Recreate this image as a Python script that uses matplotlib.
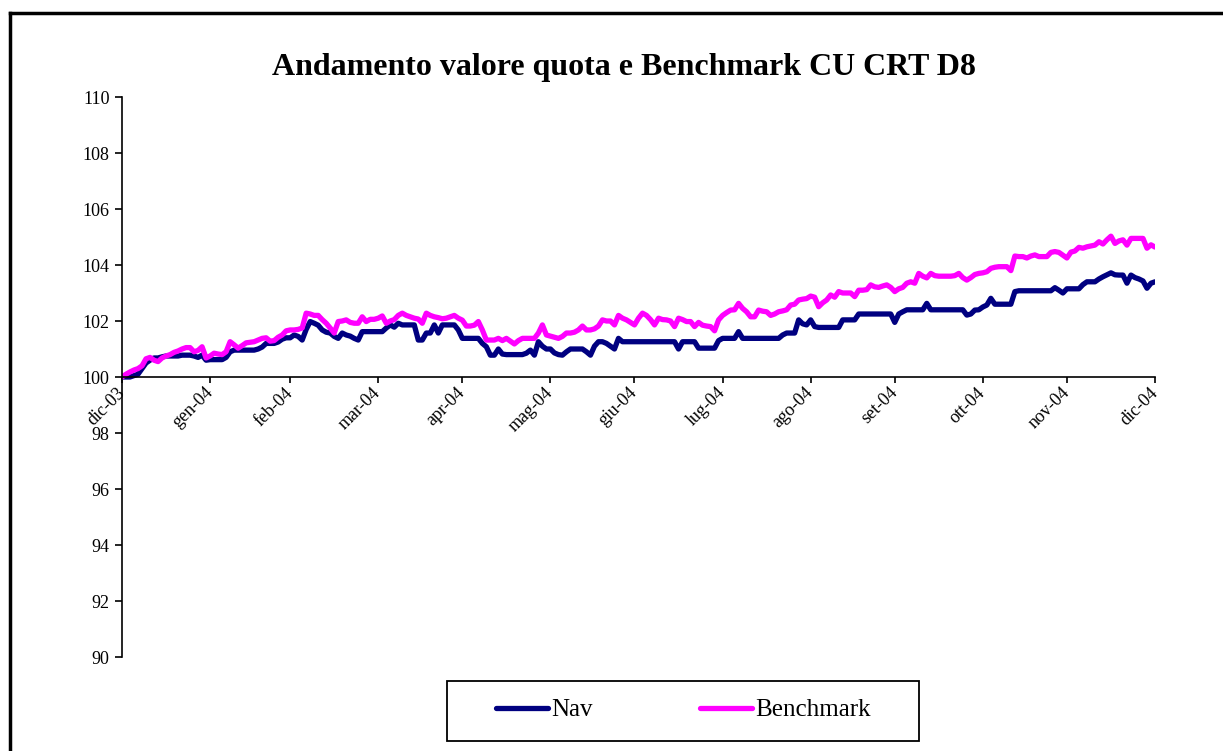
import matplotlib
matplotlib.use("Agg")
import matplotlib.pyplot as plt
import numpy as np
from matplotlib.lines import Line2D
from matplotlib.patches import Rectangle

# month labels (first trading day of each month) and observations per month
month_labels = ["dic-03", "gen-04", "feb-04", "mar-04", "apr-04", "mag-04", "giu-04",
                "lug-04", "ago-04", "set-04", "ott-04", "nov-04", "dic-04"]
days_per_month = [22, 20, 22, 21, 22, 21, 22, 22, 21, 22, 21, 22]

nav = [
    # dic-03
    100.0, 100.0, 100.0, 100.05, 100.1, 100.3, 100.5, 100.6, 100.68, 100.68, 100.72,
    100.75, 100.75, 100.75, 100.75, 100.78, 100.78, 100.78, 100.75, 100.7, 100.78, 100.6,
    # gen-04
    100.62, 100.62, 100.62, 100.62, 100.7, 100.9, 100.96, 100.96, 100.96, 100.96,
    100.96, 100.96, 101.0, 101.07, 101.2, 101.2, 101.2, 101.25, 101.35, 101.4,
    # feb-04
    101.4, 101.5, 101.45, 101.32, 101.7, 101.98, 101.92, 101.85, 101.68, 101.6, 101.57,
    101.45, 101.38, 101.57, 101.5, 101.46, 101.38, 101.32, 101.62, 101.62, 101.62, 101.62,
    # mar-04
    101.62, 101.62, 101.75, 101.86, 101.78, 101.92, 101.86, 101.86, 101.86, 101.86, 101.32,
    101.32, 101.57, 101.57, 101.86, 101.57, 101.86, 101.86, 101.86, 101.86, 101.68,
    # apr-04
    101.38, 101.38, 101.38, 101.38, 101.38, 101.2, 101.08, 100.78, 100.78, 101.0, 100.82,
    100.8, 100.8, 100.8, 100.8, 100.8, 100.85, 100.96, 100.78, 101.26, 101.1, 101.0,
    # mag-04
    101.0, 100.86, 100.8, 100.78, 100.9, 101.0, 101.0, 101.0, 101.0, 100.9, 100.78,
    101.1, 101.26, 101.26, 101.2, 101.1, 101.0, 101.38, 101.26, 101.26, 101.26,
    # giu-04
    101.26, 101.26, 101.26, 101.26, 101.26, 101.26, 101.26, 101.26, 101.26, 101.26, 101.26,
    101.0, 101.26, 101.26, 101.26, 101.26, 101.03, 101.03, 101.03, 101.03, 101.03, 101.3,
    # lug-04
    101.38, 101.38, 101.38, 101.38, 101.62, 101.38, 101.38, 101.38, 101.38, 101.38, 101.38,
    101.38, 101.38, 101.38, 101.38, 101.5, 101.57, 101.57, 101.57, 102.04, 101.9, 101.86,
    # ago-04
    102.04, 101.8, 101.77, 101.77, 101.77, 101.77, 101.77, 101.77, 102.04, 102.04, 102.04,
    102.04, 102.25, 102.25, 102.25, 102.25, 102.25, 102.25, 102.25, 102.25, 102.25,
    # set-04
    101.95, 102.25, 102.33, 102.4, 102.4, 102.4, 102.4, 102.4, 102.63, 102.4, 102.4,
    102.4, 102.4, 102.4, 102.4, 102.4, 102.4, 102.4, 102.21, 102.25, 102.39, 102.4,
    # ott-04
    102.5, 102.57, 102.81, 102.6, 102.6, 102.6, 102.6, 102.6, 103.05, 103.08, 103.08,
    103.08, 103.08, 103.08, 103.08, 103.08, 103.08, 103.08, 103.19, 103.1, 103.0,
    # nov-04
    103.15, 103.15, 103.15, 103.15, 103.3, 103.4, 103.4, 103.4, 103.5, 103.58, 103.65,
    103.72, 103.65, 103.64, 103.64, 103.35, 103.64, 103.55, 103.5, 103.43, 103.17, 103.35,
    # dic-04
    103.4,
]

benchmark = [
    # dic-03
    100.0, 100.1, 100.18, 100.25, 100.3, 100.4, 100.65, 100.7, 100.6, 100.55, 100.68,
    100.75, 100.8, 100.88, 100.93, 101.0, 101.05, 101.05, 100.9, 100.95, 101.08, 100.68,
    # gen-04
    100.75, 100.85, 100.82, 100.8, 100.9, 101.26, 101.15, 101.03, 101.12, 101.22,
    101.24, 101.26, 101.32, 101.38, 101.4, 101.28, 101.3, 101.42, 101.5, 101.65,
    # feb-04
    101.68, 101.68, 101.7, 101.75, 102.28, 102.25, 102.2, 102.2, 102.05, 101.92, 101.75,
    101.57, 101.98, 102.0, 102.04, 101.95, 101.92, 101.92, 102.15, 101.98, 102.06, 102.06,
    # mar-04
    102.1, 102.18, 101.92, 102.0, 102.05, 102.2, 102.28, 102.2, 102.15, 102.1, 102.07,
    101.92, 102.28, 102.2, 102.15, 102.12, 102.08, 102.1, 102.15, 102.2, 102.1,
    # apr-04
    102.03, 101.82, 101.82, 101.85, 101.98, 101.68, 101.32, 101.32, 101.32, 101.38, 101.3,
    101.38, 101.28, 101.18, 101.3, 101.38, 101.38, 101.38, 101.38, 101.57, 101.86, 101.5,
    # mag-04
    101.46, 101.42, 101.38, 101.45, 101.57, 101.57, 101.6, 101.68, 101.82, 101.68, 101.68,
    101.72, 101.82, 102.04, 102.0, 102.0, 101.86, 102.2, 102.1, 102.04, 101.95,
    # giu-04
    101.86, 102.1, 102.28, 102.2, 102.05, 101.86, 102.1, 102.05, 102.04, 102.0, 101.8,
    102.1, 102.05, 101.98, 101.98, 101.8, 101.95, 101.85, 101.82, 101.8, 101.65, 102.04,
    # lug-04
    102.2, 102.3, 102.39, 102.4, 102.63, 102.45, 102.33, 102.15, 102.15, 102.39, 102.35,
    102.33, 102.2, 102.25, 102.33, 102.36, 102.4, 102.57, 102.6, 102.75, 102.78, 102.8,
    # ago-04
    102.89, 102.85, 102.51, 102.65, 102.75, 102.93, 102.85, 103.05, 103.0, 103.0, 103.0,
    102.87, 103.1, 103.1, 103.12, 103.29, 103.22, 103.2, 103.25, 103.29, 103.2,
    # set-04
    103.05, 103.15, 103.2, 103.35, 103.4, 103.35, 103.7, 103.6, 103.54, 103.7, 103.62,
    103.6, 103.6, 103.6, 103.6, 103.62, 103.7, 103.55, 103.46, 103.55, 103.66, 103.7,
    # ott-04
    103.72, 103.76, 103.88, 103.92, 103.94, 103.94, 103.94, 103.8, 104.32, 104.3, 104.3,
    104.25, 104.32, 104.36, 104.3, 104.3, 104.3, 104.45, 104.48, 104.45, 104.35,
    # nov-04
    104.25, 104.46, 104.5, 104.63, 104.6, 104.65, 104.68, 104.71, 104.83, 104.75, 104.9,
    105.03, 104.77, 104.86, 104.9, 104.71, 104.95, 104.95, 104.95, 104.95, 104.6, 104.72,
    # dic-04
    104.64,
]

plt.rcParams['font.family'] = ['Liberation Serif', 'DejaVu Serif']

W, H = 1223, 751
fig = plt.figure(figsize=(W / 100, H / 100), dpi=100)

# outer frame (top and left edges only are visible)
fig.add_artist(Line2D([10 / W, 10 / W], [0, 1 - 13 / H], transform=fig.transFigure, color='black', lw=2.5))
fig.add_artist(Line2D([10 / W, 1], [1 - 13 / H, 1 - 13 / H], transform=fig.transFigure, color='black', lw=2.5))

ax = fig.add_axes([122 / W, 94 / H, 1033 / W, 560 / H])

x = np.arange(len(nav))
tick_pos = np.concatenate([[0], np.cumsum(days_per_month)])

ax.plot(x, nav, color='#000080', lw=3.8, solid_joinstyle='round', solid_capstyle='round', label='Nav')
ax.plot(x, benchmark, color='#FF00FF', lw=3.8, solid_joinstyle='round', solid_capstyle='round', label='Benchmark')

ax.set_xlim(0, tick_pos[-1])
ax.set_ylim(90, 110)
ax.set_yticks(np.arange(90, 111, 2))
ax.set_xticks(tick_pos)
ax.set_xticklabels(month_labels)

for s in ['top', 'right']:
    ax.spines[s].set_visible(False)
ax.spines['bottom'].set_position(('data', 100))
ax.spines['bottom'].set_linewidth(1.2)
ax.spines['left'].set_linewidth(1.2)
ax.tick_params(axis='y', direction='out', length=5, width=1.2, labelsize=13, pad=4)
ax.tick_params(axis='x', direction='out', length=4.5, width=1.2, labelsize=13, pad=5,
               labelrotation=45)
for lbl in ax.get_xticklabels():
    lbl.set_ha('right')
    lbl.set_va('center')
    lbl.set_rotation_mode('anchor')

fig.text(624 / W, 1 - 67 / H, "Andamento valore quota e Benchmark CU CRT D8",
         ha='center', va='center', fontsize=23, fontweight='bold')

# legend box
fig.add_artist(Rectangle((447 / W, 1 - 741 / H), (919 - 447) / W, 60 / H,
                         transform=fig.transFigure, fill=False, ec='black', lw=1.3))
fig.legend(loc='center', bbox_to_anchor=(683 / W, 1 - 710 / H), ncol=2, frameon=False,
           fontsize=18, handlelength=2.1, handletextpad=0.1, columnspacing=4.3)

plt.savefig('out.png', dpi=100)
plt.close()
